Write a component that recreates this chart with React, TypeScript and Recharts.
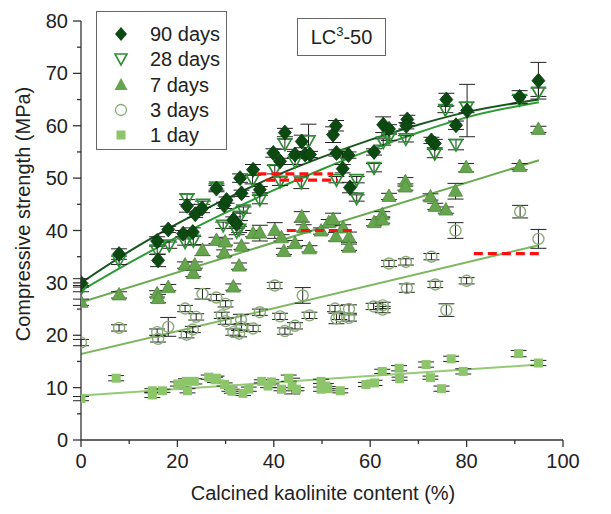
import React from 'react';
import { ComposedChart, Scatter, Line, XAxis, YAxis, ErrorBar } from 'recharts';

const FONT = '"Liberation Sans", Arial, Helvetica, sans-serif';

const xTicks = [0, 10, 20, 30, 40, 50, 60, 70, 80, 90, 100];
const yTicks = [0, 5, 10, 15, 20, 25, 30, 35, 40, 45, 50, 55, 60, 65, 70, 75, 80];

const seriesNames = ['90 days', '28 days', '7 days', '3 days', '1 day'];

// [x, y, error]
const d90: number[][] = [
  [0, 30.0, 0.8], [7.9, 35.5, 1.0], [15.8, 38.0, 0.8], [16.0, 34.3, 1.2], [18.1, 40.2, 0.6],
  [21.2, 39.4, 0.6], [22.0, 44.7, 1.2], [23.2, 39.7, 0.8], [23.7, 43.1, 0.6], [25.1, 44.2, 0.8],
  [28.1, 48.0, 0.6], [29.7, 44.8, 0.6], [30.2, 45.8, 0.6], [31.6, 42.0, 0.6], [32.3, 41.3, 0.6],
  [33.0, 50.0, 0.8], [33.3, 47.1, 0.6], [35.7, 51.6, 1.0], [37.1, 47.8, 0.6], [39.9, 54.8, 0.8],
  [41.3, 53.2, 0.6], [42.3, 58.7, 0.8], [44.4, 54.5, 0.6], [45.8, 57.0, 1.2], [46.5, 54.5, 0.6],
  [47.5, 54.5, 0.6], [52.3, 58.3, 1.5], [52.9, 60.0, 1.0], [53.0, 54.8, 0.6], [54.3, 51.8, 0.8],
  [55.5, 54.4, 0.6], [55.8, 48.2, 1.0], [60.8, 55.0, 0.6], [62.7, 60.2, 1.5], [63.9, 59.4, 0.8],
  [67.7, 61.2, 0.8], [67.5, 60.0, 0.6], [72.7, 57.2, 0.6], [73.4, 56.6, 0.8], [75.8, 65.0, 1.2],
  [77.8, 60.1, 0.8], [80.1, 62.9, 5.0], [91.0, 65.5, 1.2], [94.9, 68.6, 3.5],
];

const d28: number[][] = [
  [0, 28.9, 0.6], [7.9, 34.3, 0.8], [15.8, 36.2, 0.8], [18.3, 37.2, 0.6], [21.6, 37.8, 0.6],
  [22.0, 46.0, 1.0], [23.3, 38.1, 0.8], [25.3, 45.0, 0.6], [28.1, 48.3, 0.6], [29.5, 41.0, 0.6],
  [32.3, 39.8, 0.6], [32.8, 40.2, 0.6], [33.0, 42.7, 0.8], [33.7, 43.9, 0.6], [35.6, 49.7, 0.8],
  [37.1, 45.9, 0.8], [40.2, 51.6, 0.8], [41.3, 49.4, 0.8], [42.3, 56.5, 1.0], [44.4, 53.2, 0.6],
  [45.7, 49.2, 1.2], [47.2, 57.1, 3.2], [53.0, 49.7, 0.6], [54.3, 54.5, 0.6], [57.2, 49.7, 0.6],
  [57.2, 46.2, 0.6], [60.8, 52.0, 0.8], [62.7, 56.9, 0.6], [63.9, 57.8, 0.6], [67.4, 57.5, 0.6],
  [73.4, 54.7, 0.8], [75.6, 63.1, 0.6], [77.8, 56.4, 1.0], [80.0, 63.5, 1.0], [91.0, 65.0, 0.8],
  [94.9, 66.4, 0.8],
];

const d7: number[][] = [
  [0, 26.3, 0.6], [7.9, 27.7, 0.6], [15.8, 27.9, 0.6], [16.0, 27.0, 0.8], [18.1, 29.1, 0.6],
  [21.6, 33.4, 0.6], [23.3, 31.8, 0.6], [23.6, 33.4, 0.6], [25.2, 36.2, 1.0], [28.1, 38.1, 0.6],
  [29.7, 35.7, 0.6], [29.9, 37.8, 0.6], [31.6, 29.2, 0.6], [32.8, 33.2, 0.6], [33.3, 37.0, 0.6],
  [35.7, 39.4, 0.6], [37.1, 39.5, 1.5], [40.2, 40.0, 1.5], [41.6, 38.6, 0.6], [42.1, 36.0, 0.6],
  [44.4, 37.5, 0.6], [45.8, 42.6, 1.0], [46.2, 40.5, 0.6], [47.4, 36.5, 0.6], [49.8, 39.9, 0.6],
  [51.4, 41.5, 0.6], [52.3, 42.1, 1.2], [52.9, 38.8, 0.8], [54.4, 40.5, 0.6], [55.6, 38.7, 1.0],
  [55.6, 36.8, 0.6], [60.8, 41.5, 0.6], [62.5, 43.0, 0.6], [62.5, 42.0, 0.6], [63.9, 46.5, 0.6],
  [67.3, 49.3, 0.8], [67.3, 48.3, 0.6], [72.5, 46.4, 0.6], [73.5, 44.6, 0.6], [75.7, 43.9, 0.6],
  [77.7, 47.5, 1.5], [79.9, 52.0, 0.8], [91.0, 52.2, 0.6], [94.9, 59.3, 0.6],
];

const d3: number[][] = [
  [0, 18.6, 0.6], [7.9, 21.4, 0.6], [15.8, 20.6, 0.6], [16.0, 19.3, 0.6], [18.1, 21.6, 1.8],
  [21.6, 25.1, 0.6], [21.9, 20.1, 0.6], [23.2, 21.1, 0.6], [23.9, 23.5, 0.6], [25.2, 27.9, 1.0],
  [28.1, 27.2, 0.6], [29.2, 23.8, 0.6], [30.0, 26.0, 0.6], [30.0, 22.7, 0.6], [31.6, 20.6, 0.6],
  [32.8, 20.3, 0.6], [33.2, 23.0, 1.0], [33.3, 21.6, 0.6], [35.7, 21.3, 0.6], [37.1, 24.4, 0.6],
  [40.2, 29.5, 0.6], [41.3, 23.6, 0.6], [42.3, 20.8, 0.6], [44.4, 21.8, 0.6], [46.0, 27.6, 1.5],
  [47.4, 23.8, 0.6], [52.7, 25.1, 0.6], [53.0, 23.2, 1.0], [53.6, 23.6, 0.6], [55.6, 25.0, 0.8],
  [55.6, 23.3, 0.6], [60.7, 25.5, 0.6], [62.6, 25.7, 0.6], [62.6, 24.9, 0.6], [63.9, 33.7, 0.6],
  [67.4, 34.0, 0.6], [67.6, 29.0, 0.8], [72.7, 35.0, 0.6], [73.5, 29.7, 0.6], [75.8, 24.8, 1.2],
  [77.7, 40.0, 1.5], [80.0, 30.4, 0.6], [91.1, 43.6, 1.2], [94.9, 38.4, 1.8],
];

const d1: number[][] = [
  [0, 7.9, 0.4], [7.3, 11.8, 0.5], [14.8, 8.6, 0.5], [14.8, 9.4, 0.4], [16.9, 9.4, 0.3],
  [20.1, 10.7, 0.4], [20.8, 10.6, 0.4], [21.8, 11.2, 0.5], [22.1, 9.4, 0.4], [23.5, 11.2, 0.5],
  [26.5, 12.0, 0.4], [27.8, 11.5, 0.5], [28.1, 11.8, 0.4], [29.8, 10.6, 0.3], [30.8, 9.7, 0.4],
  [31.3, 9.3, 0.4], [33.6, 8.9, 0.4], [34.8, 9.7, 0.4], [37.5, 11.2, 0.3], [38.8, 10.3, 0.3],
  [39.5, 11.1, 0.4], [41.6, 9.7, 0.3], [43.1, 11.8, 0.6], [43.8, 10.3, 1.5], [44.7, 9.7, 0.3],
  [49.8, 11.2, 0.4], [49.8, 9.7, 0.4], [50.8, 10.3, 0.5], [51.2, 9.8, 0.4], [53.8, 9.4, 0.4],
  [59.1, 10.6, 0.4], [60.9, 10.9, 0.5], [62.5, 13.1, 0.4], [66.0, 13.7, 0.5], [66.1, 11.7, 0.3],
  [71.6, 14.4, 0.5], [72.5, 11.9, 0.3], [74.8, 9.8, 0.5], [76.8, 15.5, 0.5], [79.3, 13.1, 0.5],
  [90.8, 16.5, 0.6], [94.9, 14.7, 0.5],
];

// fit curves [x, y]
const fit90: number[][] = [[0, 30], [10, 36.0], [20, 41.3], [30, 46.0], [40, 50.3], [50, 54.0], [60, 57.3], [70, 60.2], [80, 62.6], [95, 65.0]];
const fit28: number[][] = [[0, 28.5], [10, 33.8], [20, 38.8], [30, 43.4], [40, 47.7], [50, 51.7], [60, 55.4], [70, 58.7], [80, 61.6], [95, 64.5]];
const fit7: number[][] = [[0, 26.3], [95, 53.4]];
const fit3: number[][] = [[0, 16.4], [95, 37.2]];
const fit1: number[][] = [[0, 8.5], [95, 14.4]];

// red dashed target levels [x1, x2, y]
const targets: number[][] = [[36.6, 52.3, 50.8], [38.4, 53.3, 49.6], [42.7, 57.0, 40.0], [81.5, 95.2, 35.6]];

const toPts = (a: number[][]) => a.map(([x, y, e]) => ({ x, y, e }));
const toLine = (a: number[][]) => a.map(([x, y]) => ({ x, y }));

const C90 = '#0c4a12';
const C28 = '#2f8f35';
const C7 = '#66a54e';
const C3 = '#86ad74';
const C1 = '#8dc56b';
const L90 = '#17561c';
const L28 = '#2d9a33';
const L7 = '#6aab52';
const L3 = '#7db85f';
const L1 = '#94ca74';

const Diamond = (p: any) => {
  const { cx, cy } = p;
  if (cx == null || cy == null) return null;
  return <polygon points={`${cx},${cy - 7.5} ${cx + 6.5},${cy} ${cx},${cy + 7.5} ${cx - 6.5},${cy}`} fill={C90} stroke="#08380c" strokeWidth={0.8} />;
};
const DownTri = (p: any) => {
  const { cx, cy } = p;
  if (cx == null || cy == null) return null;
  return <polygon points={`${cx - 6.5},${cy - 5} ${cx + 6.5},${cy - 5} ${cx},${cy + 6.5}`} fill="none" stroke={C28} strokeWidth={1.7} />;
};
const UpTri = (p: any) => {
  const { cx, cy } = p;
  if (cx == null || cy == null) return null;
  return <polygon points={`${cx},${cy - 7.5} ${cx + 7},${cy + 5} ${cx - 7},${cy + 5}`} fill={C7} stroke="#4f8c3c" strokeWidth={0.8} />;
};
const Circ = (p: any) => {
  const { cx, cy } = p;
  if (cx == null || cy == null) return null;
  return <circle cx={cx} cy={cy} r={5.5} fill="none" stroke={C3} strokeWidth={1.4} />;
};
const Sq = (p: any) => {
  const { cx, cy } = p;
  if (cx == null || cy == null) return null;
  return <rect x={cx - 4.5} y={cy - 4.5} width={9} height={9} fill={C1} />;
};
const NoShape = () => null;

const XTick = (p: any) => {
  const { x, y, payload } = p;
  const v = payload.value;
  const major = v % 20 === 0;
  return (
    <g>
      <line x1={x} y1={y} x2={x} y2={y + (major ? 7 : 4)} stroke="#333" strokeWidth={1.3} />
      {major && (
        <text x={x} y={y + 28} textAnchor="middle" fontSize={20} fontFamily={FONT} fill="#222">{v}</text>
      )}
    </g>
  );
};

const YTick = (p: any) => {
  const { x, y, payload } = p;
  const v = payload.value;
  const major = v % 10 === 0;
  return (
    <g>
      <line x1={x - (major ? 8 : 4)} y1={y} x2={x} y2={y} stroke="#333" strokeWidth={1.3} />
      {major && (
        <text x={x - 13} y={y + 7} textAnchor="end" fontSize={20} fontFamily={FONT} fill="#222">{v}</text>
      )}
    </g>
  );
};

const legendMarkers = [
  <polygon key="a" points="10,3 16,10 10,17 4,10" fill={C90} />,
  <polygon key="b" points="4,5 16,5 10,16" fill="none" stroke={C28} strokeWidth={1.6} />,
  <polygon key="c" points="10,3 16.5,15 3.5,15" fill={C7} />,
  <circle key="d" cx={10} cy={10} r={5.5} fill="none" stroke={C3} strokeWidth={1.3} />,
  <rect key="e" x={5.5} y={5.5} width={9} height={9} fill={C1} />,
];

export default function App() {
  const errProps = { dataKey: 'e', direction: 'y' as const, width: 8, stroke: '#222', strokeWidth: 1 };
  return (
    <div style={{ position: 'absolute', left: 0, top: 0, width: 611, height: 514, background: '#fff', fontFamily: FONT }}>
      <ComposedChart width={611} height={514} margin={{ top: 21, right: 48, left: 0, bottom: 0 }}>
        <XAxis
          type="number"
          dataKey="x"
          domain={[0, 100]}
          ticks={xTicks}
          interval={0}
          height={74}
          tickSize={0}
          tickMargin={0}
          tickLine={false}
          axisLine={{ stroke: '#333', strokeWidth: 1.3 }}
          tick={<XTick />}
          allowDataOverflow
        />
        <YAxis
          type="number"
          dataKey="y"
          domain={[0, 80]}
          ticks={yTicks}
          interval={0}
          width={81}
          tickSize={0}
          tickMargin={0}
          tickLine={false}
          axisLine={{ stroke: '#333', strokeWidth: 1.3 }}
          tick={<YTick />}
          allowDataOverflow
        />
        <Line data={toLine(fit1)} dataKey="y" type="linear" stroke={L1} strokeWidth={2} dot={false} activeDot={false} isAnimationActive={false} />
        <Line data={toLine(fit3)} dataKey="y" type="linear" stroke={L3} strokeWidth={2} dot={false} activeDot={false} isAnimationActive={false} />
        <Line data={toLine(fit7)} dataKey="y" type="linear" stroke={L7} strokeWidth={2} dot={false} activeDot={false} isAnimationActive={false} />
        <Line data={toLine(fit28)} dataKey="y" type="monotone" stroke={L28} strokeWidth={2} dot={false} activeDot={false} isAnimationActive={false} />
        <Line data={toLine(fit90)} dataKey="y" type="monotone" stroke={L90} strokeWidth={2} dot={false} activeDot={false} isAnimationActive={false} />
        <Scatter name={seriesNames[4]} data={toPts(d1)} dataKey="y" shape={Sq} isAnimationActive={false}>
          <ErrorBar {...errProps} />
        </Scatter>
        <Scatter name={seriesNames[3]} data={toPts(d3)} dataKey="y" shape={Circ} isAnimationActive={false}>
          <ErrorBar {...errProps} />
        </Scatter>
        <Scatter name={seriesNames[2]} data={toPts(d7)} dataKey="y" shape={UpTri} isAnimationActive={false}>
          <ErrorBar {...errProps} />
        </Scatter>
        <Scatter name={seriesNames[1]} data={toPts(d28)} dataKey="y" shape={DownTri} isAnimationActive={false}>
          <ErrorBar {...errProps} />
        </Scatter>
        <Scatter name={seriesNames[0]} data={toPts(d90)} dataKey="y" shape={Diamond} isAnimationActive={false}>
          <ErrorBar {...errProps} />
        </Scatter>
        {targets.map(([x1, x2, y], i) => (
          <Scatter
            key={'t' + i}
            data={[{ x: x1, y }, { x: x2, y }]}
            dataKey="y"
            shape={NoShape}
            line={{ stroke: '#ff1010', strokeWidth: 3.2, strokeDasharray: '9 5' }}
            isAnimationActive={false}
          />
        ))}
      </ComposedChart>

      {/* axis titles */}
      <div style={{ position: 'absolute', left: 323, top: 493, transform: 'translate(-50%, -50%)', whiteSpace: 'nowrap', fontSize: 20, color: '#222' }}>
        Calcined kaolinite content (%)
      </div>
      <div style={{ position: 'absolute', left: 23, top: 214, transform: 'translate(-50%, -50%) rotate(-90deg)', whiteSpace: 'nowrap', fontSize: 20, color: '#222' }}>
        Compressive strength (MPa)
      </div>

      {/* legend */}
      <div style={{ position: 'absolute', left: 96, top: 11, width: 131, height: 139, border: '1px solid #666', background: '#fff', boxSizing: 'border-box' }}>
        {seriesNames.map((n, i) => (
          <div key={n} style={{ position: 'absolute', left: 0, top: 22 + i * 25.3 - 12, height: 24, width: 129 }}>
            <svg width={20} height={20} style={{ position: 'absolute', left: 14, top: 2 }}>{legendMarkers[i]}</svg>
            <span style={{ position: 'absolute', left: 53, top: 0, fontSize: 20, lineHeight: '24px', color: '#222', whiteSpace: 'nowrap' }}>{n}</span>
          </div>
        ))}
      </div>

      {/* annotation */}
      <div style={{ position: 'absolute', left: 297, top: 18, width: 89, height: 38, border: '1px solid #666', boxSizing: 'border-box', display: 'flex', alignItems: 'center', justifyContent: 'center', fontSize: 20, color: '#222', background: '#fff' }}>
        <span>LC<sup style={{ fontSize: 13, verticalAlign: 'top', position: 'relative', top: -2 }}>3</sup>-50</span>
      </div>
    </div>
  );
}
